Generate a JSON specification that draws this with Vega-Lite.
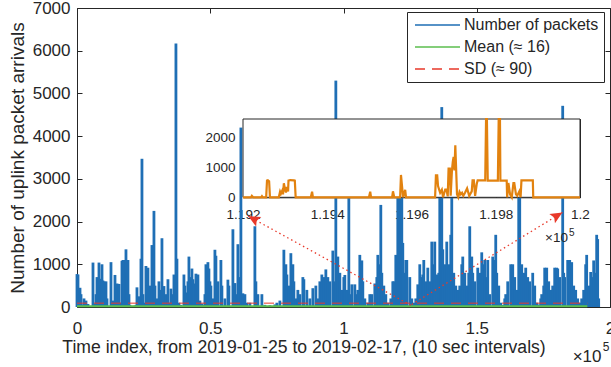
{
  "$schema": "https://vega.github.io/schema/vega-lite/v6.json",
  "width": 533,
  "height": 299,
  "autosize": {"type": "none"},
  "padding": {"left": 77, "top": 8, "right": 1, "bottom": 60},
  "background": "white",
  "config": {
    "view": {"stroke": null},
    "font": "Liberation Sans",
    "axis": {"grid": false, "domainColor": "#262626", "tickColor": "#262626", "labelColor": "#262626", "titleColor": "#262626", "labelFont": "Liberation Sans", "titleFont": "Liberation Sans", "titleFontWeight": "normal", "domainWidth": 1, "tickWidth": 1}
  },
  "datasets": {
    "packets": [
      {"x":0,"v":770},{"x":375,"v":760},{"x":1125,"v":450},{"x":1500,"v":300},{"x":2250,"v":60},{"x":2625,"v":200},{"x":3375,"v":150},{"x":4125,"v":70},{"x":4875,"v":10},{"x":5250,"v":5},
      {"x":6000,"v":1040},{"x":6375,"v":80},{"x":7125,"v":300},{"x":7500,"v":700},{"x":7875,"v":650},{"x":8250,"v":1040},{"x":8625,"v":660},{"x":9000,"v":500},{"x":9375,"v":1000},{"x":9750,"v":620},
      {"x":10125,"v":600},{"x":10875,"v":600},{"x":11250,"v":200},{"x":12000,"v":10},{"x":12750,"v":1050},{"x":13125,"v":100},{"x":13500,"v":150},{"x":14250,"v":750},{"x":14625,"v":400},{"x":15000,"v":550},
      {"x":15750,"v":540},{"x":16125,"v":100},{"x":16875,"v":1080},{"x":17250,"v":1100},{"x":17625,"v":1100},{"x":18375,"v":1350},{"x":18750,"v":800},{"x":19125,"v":1100},{"x":19500,"v":300},{"x":19875,"v":50},
      {"x":20625,"v":20},{"x":21375,"v":30},{"x":22125,"v":50},{"x":22500,"v":460},{"x":23250,"v":250},{"x":24000,"v":1130},{"x":24375,"v":3470},{"x":24750,"v":300},{"x":25125,"v":100},{"x":25875,"v":960},
      {"x":26250,"v":500},{"x":26625,"v":920},{"x":27375,"v":500},{"x":27750,"v":300},{"x":28125,"v":1450},{"x":28875,"v":2250},{"x":29250,"v":500},{"x":30000,"v":200},{"x":30750,"v":600},{"x":31125,"v":400},
      {"x":31500,"v":300},{"x":31875,"v":1610},{"x":32625,"v":490},{"x":33375,"v":300},{"x":34125,"v":650},{"x":34875,"v":100},{"x":35250,"v":430},{"x":36000,"v":300},{"x":36375,"v":760},{"x":36750,"v":400},
      {"x":37125,"v":6170},{"x":37500,"v":1130},{"x":38250,"v":100},{"x":39000,"v":50},{"x":39375,"v":20},{"x":40125,"v":760},{"x":40500,"v":500},{"x":40875,"v":340},{"x":41625,"v":600},{"x":42000,"v":1180},
      {"x":42375,"v":700},{"x":43125,"v":900},{"x":43500,"v":650},{"x":43875,"v":550},{"x":44625,"v":780},{"x":45000,"v":600},{"x":45375,"v":760},{"x":46125,"v":150},{"x":46875,"v":80},{"x":47250,"v":50},
      {"x":48000,"v":300},{"x":48375,"v":1000},{"x":48750,"v":950},{"x":49125,"v":1050},{"x":49500,"v":900},{"x":49875,"v":600},{"x":50250,"v":500},{"x":51000,"v":200},{"x":51750,"v":1340},{"x":52125,"v":1200},
      {"x":52875,"v":600},{"x":54000,"v":1100},{"x":54375,"v":500},{"x":55500,"v":200},{"x":56625,"v":640},{"x":57000,"v":500},{"x":58500,"v":1820},{"x":59250,"v":560},{"x":60000,"v":300},{"x":60375,"v":1470},
      {"x":60750,"v":700},{"x":61500,"v":4200},{"x":62250,"v":320},{"x":63000,"v":300},{"x":63750,"v":100},{"x":64875,"v":100},{"x":65625,"v":20},{"x":66750,"v":1890},{"x":67125,"v":600},{"x":67875,"v":300},
      {"x":69375,"v":300},{"x":70500,"v":50},{"x":72375,"v":40},{"x":74250,"v":60},{"x":75000,"v":100},{"x":76125,"v":150},{"x":77625,"v":1340},{"x":78375,"v":1000},{"x":78750,"v":760},{"x":79500,"v":500},
      {"x":80250,"v":1260},{"x":81000,"v":1000},{"x":81375,"v":600},{"x":82125,"v":200},{"x":82875,"v":400},{"x":83625,"v":300},{"x":84750,"v":700},{"x":85125,"v":650},{"x":86250,"v":400},{"x":87375,"v":200},
      {"x":88500,"v":440},{"x":89625,"v":500},{"x":90375,"v":200},{"x":91125,"v":600},{"x":91875,"v":760},{"x":92625,"v":700},{"x":93375,"v":880},{"x":94125,"v":700},{"x":94875,"v":600},{"x":96000,"v":1320},
      {"x":96750,"v":600},{"x":97125,"v":5300},{"x":97875,"v":1180},{"x":98625,"v":800},{"x":99375,"v":400},{"x":100125,"v":700},{"x":100500,"v":750},{"x":101250,"v":400},{"x":102000,"v":3200},{"x":102375,"v":300},
      {"x":103125,"v":530},{"x":104250,"v":530},{"x":104625,"v":300},{"x":105375,"v":400},{"x":106125,"v":1220},{"x":106875,"v":1090},{"x":107250,"v":600},{"x":108000,"v":200},{"x":109125,"v":100},{"x":109875,"v":300},
      {"x":110625,"v":300},{"x":111750,"v":550},{"x":112500,"v":700},{"x":112875,"v":1220},{"x":113250,"v":1000},{"x":114000,"v":2390},{"x":114375,"v":800},{"x":115125,"v":500},{"x":115875,"v":300},{"x":116625,"v":100},
      {"x":117750,"v":200},{"x":118500,"v":600},{"x":118875,"v":600},{"x":119625,"v":1220},{"x":120000,"v":1000},{"x":120375,"v":3500},{"x":120750,"v":3800},{"x":121125,"v":3600},{"x":121500,"v":3500},{"x":121875,"v":3300},
      {"x":122250,"v":1500},{"x":122625,"v":800},{"x":123375,"v":1100},{"x":123750,"v":1100},{"x":124875,"v":700},{"x":125625,"v":200},{"x":126375,"v":100},{"x":127125,"v":200},{"x":127875,"v":530},{"x":128625,"v":1000},
      {"x":129000,"v":700},{"x":129750,"v":760},{"x":130125,"v":1100},{"x":130875,"v":600},{"x":131625,"v":920},{"x":132375,"v":600},{"x":133125,"v":1530},{"x":133875,"v":1000},{"x":134250,"v":1530},{"x":135000,"v":760},
      {"x":135750,"v":800},{"x":136125,"v":3500},{"x":136500,"v":3400},{"x":136875,"v":4680},{"x":137250,"v":1350},{"x":138000,"v":1000},{"x":138750,"v":1530},{"x":139500,"v":1000},{"x":140250,"v":1690},{"x":140625,"v":3000},
      {"x":141375,"v":800},{"x":142125,"v":500},{"x":142875,"v":400},{"x":143625,"v":500},{"x":144375,"v":1000},{"x":144750,"v":1180},{"x":145500,"v":800},{"x":146250,"v":500},{"x":147000,"v":800},{"x":147375,"v":1890},
      {"x":148125,"v":1180},{"x":148500,"v":800},{"x":149250,"v":600},{"x":150375,"v":920},{"x":151125,"v":800},{"x":151875,"v":1280},{"x":152250,"v":1000},{"x":153000,"v":1100},{"x":153750,"v":700},{"x":154125,"v":1100},
      {"x":154875,"v":300},{"x":156000,"v":1180},{"x":156375,"v":1100},{"x":157125,"v":1690},{"x":157500,"v":800},{"x":158250,"v":500},{"x":159000,"v":100},{"x":159750,"v":50},{"x":160500,"v":200},{"x":160875,"v":300},
      {"x":161625,"v":600},{"x":162750,"v":1000},{"x":163500,"v":1000},{"x":164250,"v":700},{"x":165000,"v":400},{"x":165750,"v":3400},{"x":166125,"v":2800},{"x":166875,"v":1000},{"x":167625,"v":800},{"x":168375,"v":920},
      {"x":169125,"v":700},{"x":169875,"v":600},{"x":171000,"v":800},{"x":171750,"v":500},{"x":172500,"v":100},{"x":173250,"v":60},{"x":174000,"v":200},{"x":174375,"v":300},{"x":175125,"v":500},{"x":175500,"v":920},
      {"x":176250,"v":920},{"x":177000,"v":600},{"x":177750,"v":400},{"x":178500,"v":500},{"x":179250,"v":920},{"x":180000,"v":920},{"x":180375,"v":900},{"x":181125,"v":700},{"x":182250,"v":4710},{"x":182625,"v":800},
      {"x":183000,"v":700},{"x":184125,"v":1100},{"x":184875,"v":1100},{"x":185625,"v":1050},{"x":186375,"v":500},{"x":187125,"v":400},{"x":187875,"v":200},{"x":188625,"v":100},{"x":189375,"v":200},{"x":190125,"v":400},
      {"x":190875,"v":1000},{"x":191250,"v":1220},{"x":192000,"v":500},{"x":192750,"v":820},{"x":193125,"v":700},{"x":193875,"v":1090},{"x":194625,"v":800},{"x":195000,"v":1690},{"x":195375,"v":1590},{"x":195750,"v":200}
    ],
    "mean": [{"x": 0, "v": 16}, {"x": 191500, "v": 16}],
    "sd": [{"x": 0, "v": 90}, {"x": 191500, "v": 90}],
    "arrows": [
      {"side": "left", "x0": 125250, "y0": 40, "x1": 64240, "y1": 2128},
      {"side": "right", "x0": 125600, "y0": 60, "x1": 182140, "y1": 2214}
    ],
    "zoom": [
      {"x":119200,"v":0},{"x":119219,"v":0},{"x":119221,"v":50},{"x":119224,"v":0},{"x":119243,"v":0},{"x":119245,"v":40},{"x":119247,"v":0},{"x":119255,"v":0},{"x":119257,"v":560},{"x":119259,"v":570},
      {"x":119262,"v":540},{"x":119264,"v":0},{"x":119285,"v":0},{"x":119288,"v":190},{"x":119290,"v":120},{"x":119293,"v":220},{"x":119295,"v":100},{"x":119297,"v":470},{"x":119300,"v":250},{"x":119302,"v":160},
      {"x":119304,"v":350},{"x":119307,"v":200},{"x":119308,"v":560},{"x":119312,"v":580},{"x":119321,"v":570},{"x":119323,"v":560},{"x":119325,"v":0},{"x":119361,"v":0},{"x":119364,"v":190},{"x":119366,"v":0},
      {"x":119499,"v":0},{"x":119502,"v":190},{"x":119504,"v":0},{"x":119554,"v":0},{"x":119556,"v":200},{"x":119559,"v":0},{"x":119573,"v":0},{"x":119575,"v":750},{"x":119578,"v":300},{"x":119580,"v":0},
      {"x":119585,"v":250},{"x":119587,"v":0},{"x":119656,"v":0},{"x":119658,"v":740},{"x":119661,"v":740},{"x":119663,"v":380},{"x":119668,"v":150},{"x":119672,"v":250},{"x":119675,"v":0},{"x":119680,"v":260},
      {"x":119683,"v":260},{"x":119686,"v":30},{"x":119688,"v":960},{"x":119691,"v":960},{"x":119693,"v":50},{"x":119696,"v":900},{"x":119698,"v":1190},{"x":119700,"v":1360},{"x":119702,"v":900},{"x":119704,"v":1750},
      {"x":119708,"v":100},{"x":119711,"v":0},{"x":119714,"v":180},{"x":119717,"v":100},{"x":119720,"v":150},{"x":119723,"v":50},{"x":119727,"v":150},{"x":119732,"v":300},{"x":119737,"v":50},{"x":119743,"v":200},
      {"x":119745,"v":570},{"x":119748,"v":570},{"x":119751,"v":50},{"x":119755,"v":460},{"x":119757,"v":570},{"x":119775,"v":570},{"x":119777,"v":2630},{"x":119779,"v":2630},{"x":119781,"v":560},{"x":119805,"v":560},
      {"x":119807,"v":2630},{"x":119810,"v":2630},{"x":119811,"v":560},{"x":119826,"v":560},{"x":119827,"v":0},{"x":119830,"v":480},{"x":119834,"v":100},{"x":119838,"v":0},{"x":119842,"v":480},{"x":119844,"v":480},
      {"x":119848,"v":100},{"x":119851,"v":50},{"x":119856,"v":200},{"x":119859,"v":0},{"x":119861,"v":570},{"x":119888,"v":570},{"x":119889,"v":0},{"x":120000,"v":0}
    ]
  },
  "layer": [
    {
      "layer": [
        {
          "data": {"name": "packets"},
          "mark": {"type": "rule", "strokeWidth": 2.8},
          "encoding": {
            "x": {"field": "x", "type": "quantitative", "scale": {"domain": [0, 200000], "nice": false, "zero": false},
                  "axis": {"orient": "bottom", "values": [0, 50000, 100000, 150000, 200000], "labelExpr": "format(datum.value/100000, '~g')", "tickSize": -5, "labelPadding": 31, "labelFontSize": 17, "labelBaseline": "alphabetic", "labelFlush": false,
                           "title": "Time index, from 2019-01-25 to 2019-02-17, (10 sec intervals)", "titleFontSize": 17.6, "titleX": 226.5, "titleY": 45.8, "titleBaseline": "alphabetic", "titleAlign": "center", "titleAnchor": null}},
            "y": {"field": "v", "type": "quantitative", "scale": {"domain": [0, 7000], "nice": false},
                  "axis": {"orient": "left", "values": [0, 1000, 2000, 3000, 4000, 5000, 6000, 7000], "format": "d", "tickSize": -5, "labelPadding": 12, "labelFontSize": 17, "labelFlush": false,
                           "title": "Number of uplink packet arrivals", "titleFontSize": 19, "titleX": -53.7, "titleY": 149.5, "titleAngle": -90, "titleBaseline": "alphabetic", "titleAlign": "center", "titleAnchor": null}},
            "y2": {"datum": 0},
            "color": {"datum": "Number of packets", "type": "nominal",
                      "scale": {"domain": ["Number of packets", "Mean (≈ 16)", "SD (≈ 90)"], "range": ["#1f6fb5", "#5cbf4f", "#e8392a"]},
                      "legend": {"orient": "none", "legendX": 330, "legendY": 4, "title": null, "symbolType": "M-1,0H8", "symbolSize": 100, "symbolStrokeWidth": 1.5,
                                 "labelFontSize": 16, "labelFont": "Liberation Sans", "labelColor": "#262626", "strokeColor": "#262626", "fillColor": "white",
                                 "padding": 5, "rowPadding": 6, "labelOffset": 36,
                                 "encode": {"symbols": {"update": {"strokeDash": {"signal": "datum.label == 'SD (≈ 90)' ? [10, 7] : [1, 0]"}}}}}}
          }
        },
        {
          "data": {"name": "mean"},
          "mark": {"type": "line", "strokeWidth": 2},
          "encoding": {
            "x": {"field": "x", "type": "quantitative", "axis": {"orient": "top", "labels": false, "title": null, "values": [0, 50000, 100000, 150000, 200000], "tickSize": -5}},
            "y": {"field": "v", "type": "quantitative", "axis": {"orient": "right", "labels": false, "title": null, "values": [0, 1000, 2000, 3000, 4000, 5000, 6000, 7000], "tickSize": -5}},
            "color": {"datum": "Mean (≈ 16)", "type": "nominal"}
          }
        },
        {
          "data": {"name": "sd"},
          "mark": {"type": "line", "strokeWidth": 1, "strokeDash": [10, 7]},
          "encoding": {
            "x": {"field": "x", "type": "quantitative", "axis": null},
            "y": {"field": "v", "type": "quantitative", "axis": null},
            "color": {"datum": "SD (≈ 90)", "type": "nominal"}
          }
        },
        {
          "data": {"name": "arrows"},
          "mark": {"type": "rule", "color": "#e8392a", "strokeWidth": 1.3, "strokeDash": [1.5, 3]},
          "encoding": {
            "x": {"field": "x0", "type": "quantitative", "axis": null},
            "y": {"field": "y0", "type": "quantitative", "axis": null},
            "x2": {"field": "x1"},
            "y2": {"field": "y1"}
          }
        },
        {
          "data": {"name": "arrows"},
          "transform": [{"filter": "datum.side == 'left'"}],
          "mark": {"type": "point", "shape": "M0,0L0.45,1L0,0.8L-0.45,1Z", "size": 576, "filled": true, "color": "#e8392a", "opacity": 1, "angle": 298.6},
          "encoding": {
            "x": {"field": "x1", "type": "quantitative", "axis": null},
            "y": {"field": "y1", "type": "quantitative", "axis": null}
          }
        },
        {
          "data": {"name": "arrows"},
          "transform": [{"filter": "datum.side == 'right'"}],
          "mark": {"type": "point", "shape": "M0,0L0.45,1L0,0.8L-0.45,1Z", "size": 576, "filled": true, "color": "#e8392a", "opacity": 1, "angle": 58.7},
          "encoding": {
            "x": {"field": "x1", "type": "quantitative", "axis": null},
            "y": {"field": "y1", "type": "quantitative", "axis": null}
          }
        },
        {
          "data": {"values": [{}]},
          "mark": {"type": "text", "text": "×10", "fontSize": 17, "align": "left", "baseline": "alphabetic", "color": "#262626", "font": "Liberation Sans"},
          "encoding": {
            "x": {"datum": 186000, "type": "quantitative", "axis": null},
            "y": {"datum": -1290, "type": "quantitative", "axis": null}
          }
        },
        {
          "data": {"values": [{}]},
          "mark": {"type": "text", "text": "5", "fontSize": 12, "align": "left", "baseline": "alphabetic", "color": "#262626", "font": "Liberation Sans"},
          "encoding": {
            "x": {"datum": 197250, "type": "quantitative", "axis": null},
            "y": {"datum": -1032, "type": "quantitative", "axis": null}
          }
        }
      ],
      "resolve": {"axis": {"x": "independent", "y": "independent"}}
    },
    {
      "layer": [
        {
          "data": {"values": [{}]},
          "mark": {"type": "rect", "fill": "white", "stroke": "#262626", "strokeWidth": 1},
          "encoding": {
            "x": {"datum": 119200, "type": "quantitative", "scale": {"domain": [119200, 120000], "range": [166, 503], "nice": false, "zero": false},
                  "axis": {"orient": "bottom", "offset": -109.7, "values": [119200, 119400, 119600, 119800, 120000], "labelExpr": "format(datum.value/100000, '.3~f')", "tickSize": -3, "labelPadding": 24, "labelFontSize": 13.5, "labelBaseline": "alphabetic", "labelFlush": false, "title": null}},
            "x2": {"datum": 120000},
            "y": {"datum": 0, "type": "quantitative", "scale": {"domain": [0, 2630], "range": [189.3, 111], "nice": false},
                  "axis": {"orient": "left", "offset": -166, "values": [0, 1000, 2000], "format": "d", "tickSize": -3, "labelPadding": 11, "labelFontSize": 13.5, "labelFlush": false, "title": null}},
            "y2": {"datum": 2630}
          }
        },
        {
          "data": {"name": "zoom"},
          "mark": {"type": "line", "color": "#e2820f", "strokeWidth": 2.2},
          "encoding": {
            "x": {"field": "x", "type": "quantitative", "axis": {"orient": "top", "offset": -111, "labels": false, "title": null, "values": [119200, 119400, 119600, 119800, 120000], "tickSize": -3}},
            "y": {"field": "v", "type": "quantitative", "axis": {"orient": "right", "offset": -30, "labels": false, "title": null, "values": [0, 1000, 2000], "tickSize": -3}}
          }
        },
        {
          "data": {"values": [{}]},
          "mark": {"type": "text", "text": "×10", "fontSize": 13.5, "align": "left", "baseline": "alphabetic", "color": "#262626", "font": "Liberation Sans"},
          "encoding": {
            "x": {"datum": 119917, "type": "quantitative", "axis": null},
            "y": {"datum": -1495, "type": "quantitative", "axis": null}
          }
        },
        {
          "data": {"values": [{}]},
          "mark": {"type": "text", "text": "5", "fontSize": 10, "align": "left", "baseline": "alphabetic", "color": "#262626", "font": "Liberation Sans"},
          "encoding": {
            "x": {"datum": 119974, "type": "quantitative", "axis": null},
            "y": {"datum": -1303, "type": "quantitative", "axis": null}
          }
        }
      ],
      "resolve": {"axis": {"x": "independent", "y": "independent"}}
    }
  ],
  "resolve": {"scale": {"x": "independent", "y": "independent"}, "axis": {"x": "independent", "y": "independent"}}
}
